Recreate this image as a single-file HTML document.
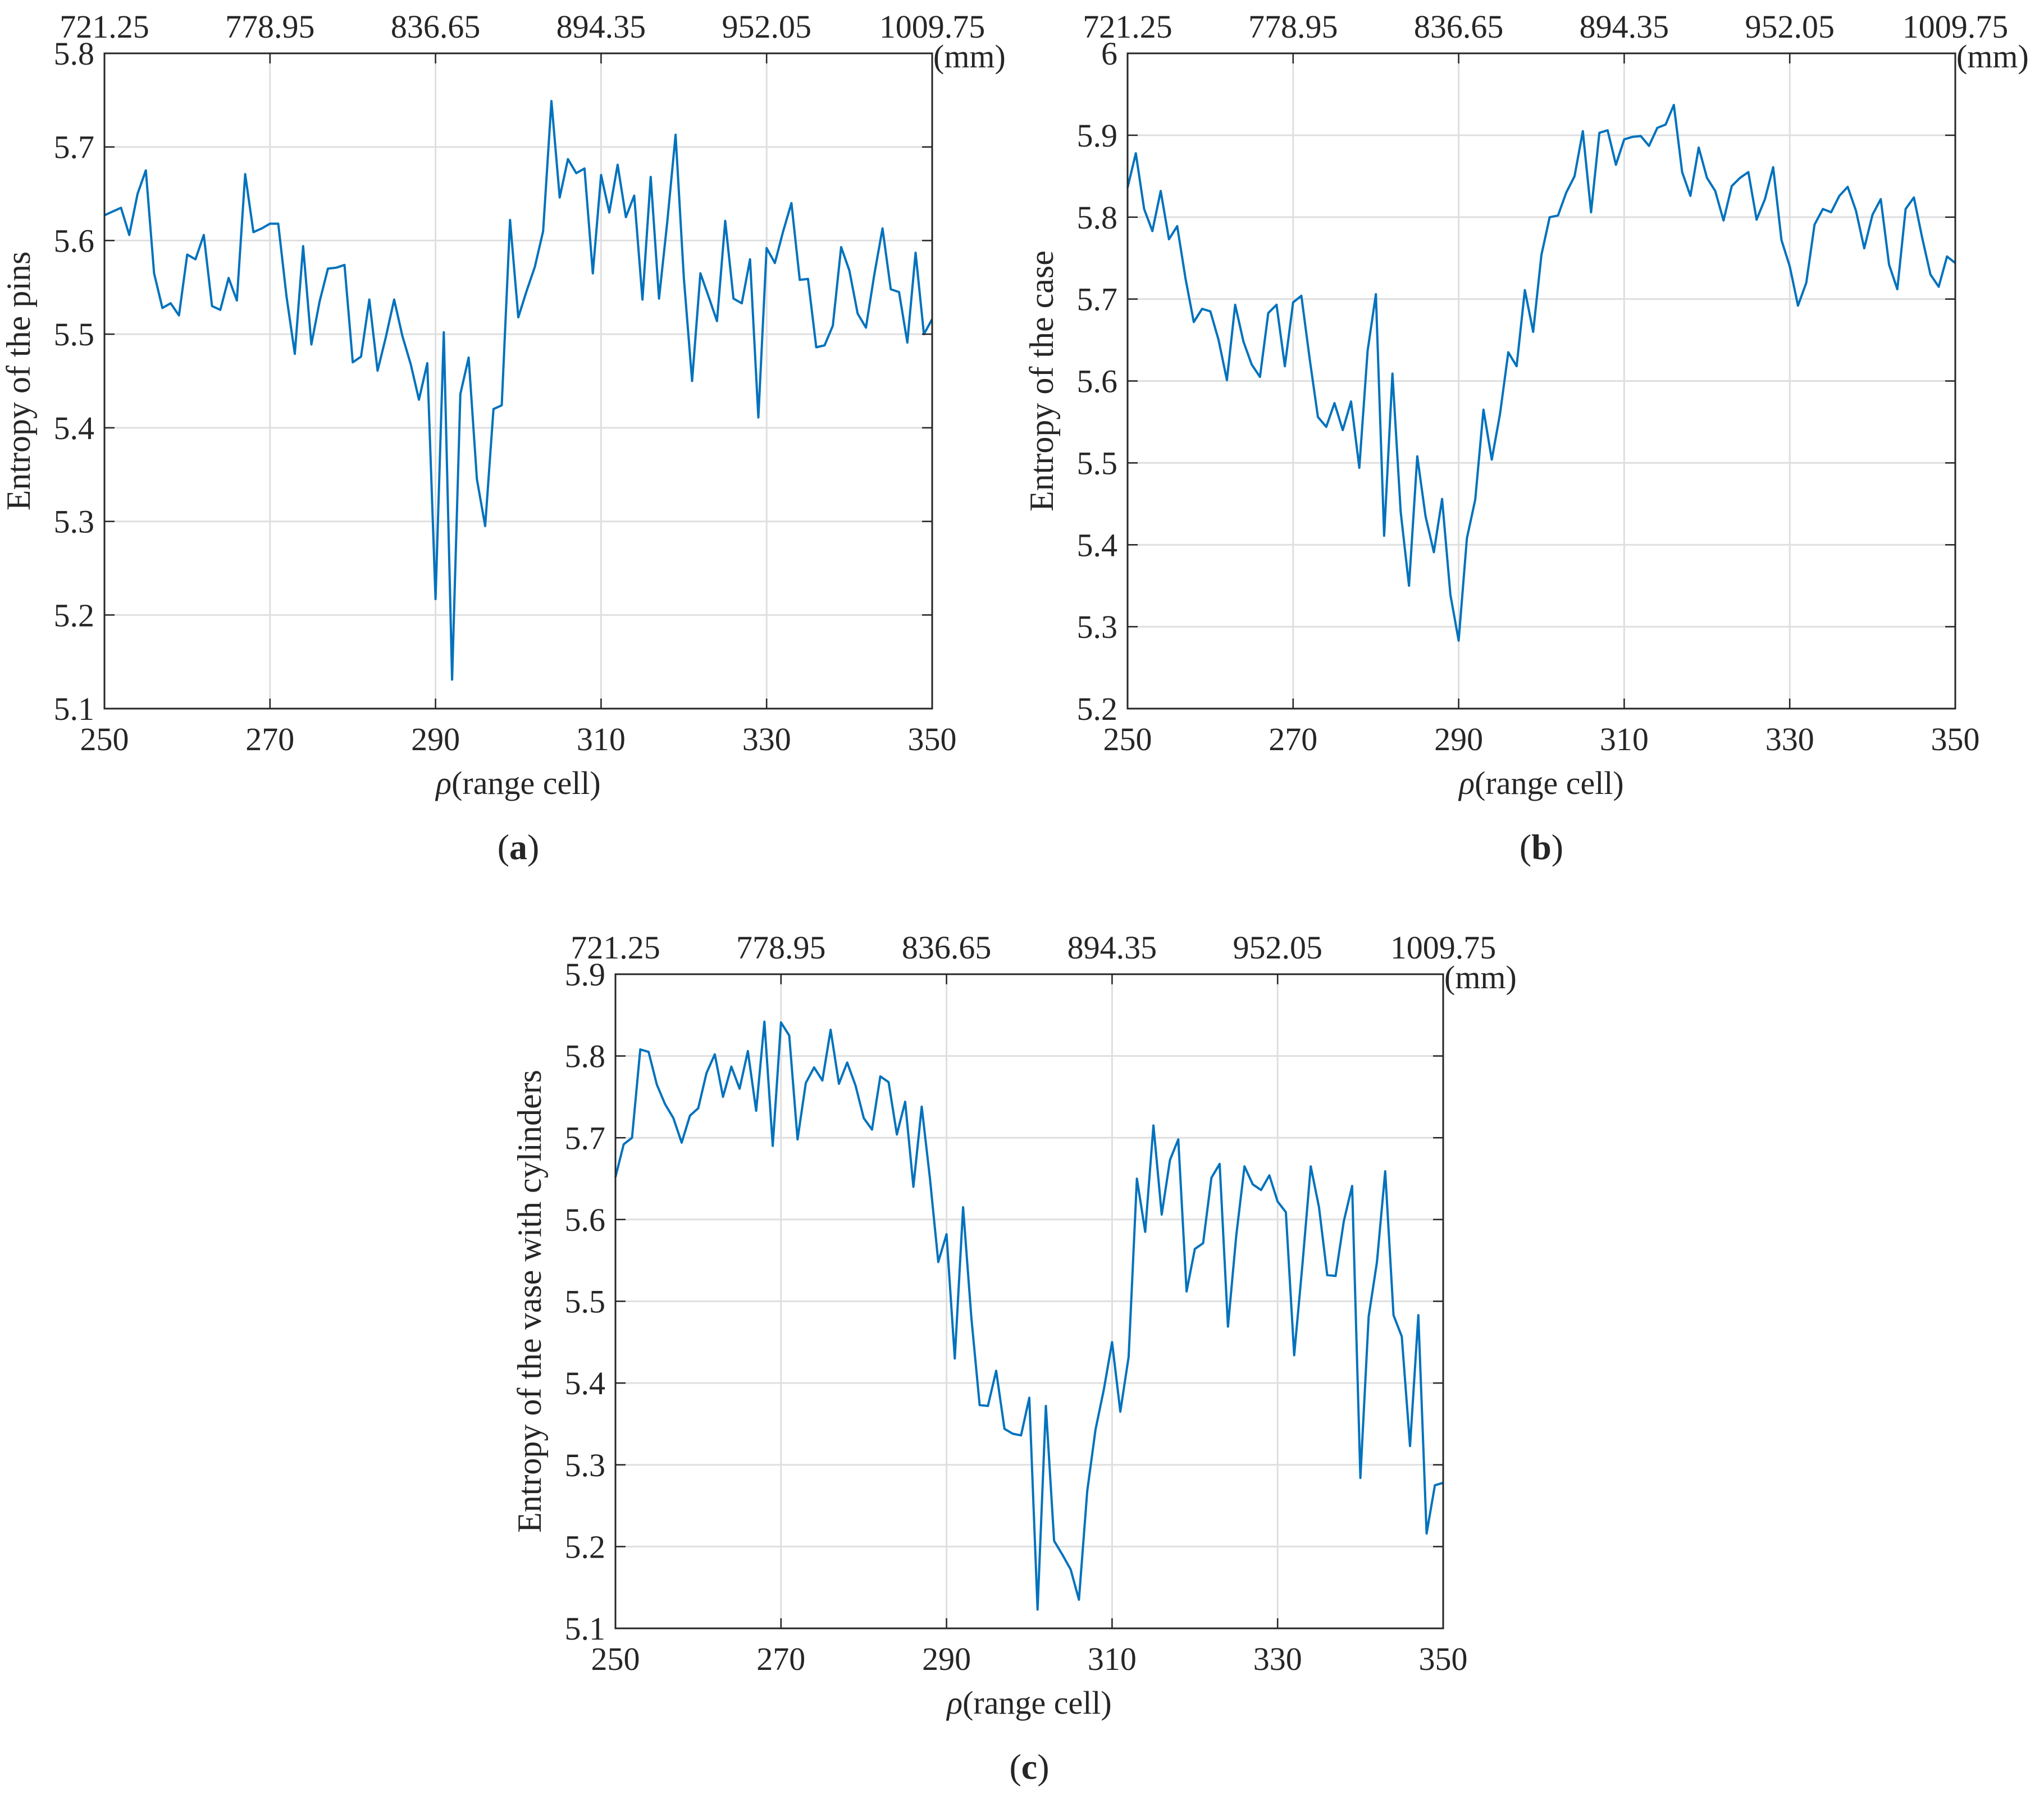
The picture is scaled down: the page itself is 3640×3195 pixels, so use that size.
<!DOCTYPE html>
<html><head><meta charset="utf-8"><style>
body{margin:0;background:#fff;overflow:hidden}
svg{display:block}
text{font-family:"Liberation Serif",serif;fill:#262626}
</style></head><body>
<svg id="fig" width="3640" height="3195" viewBox="0 0 3640 3195" xmlns="http://www.w3.org/2000/svg"></svg>
<script>
const xTicks=[250,270,290,310,330,350];
const topTickLabels=["721.25","778.95","836.65","894.35","952.05","1009.75"];
const cells=[];for(let i=250;i<=350;i++)cells.push(i);
const pinsValues=[5.627,5.631,5.635,5.606,5.65,5.675,5.565,5.528,5.533,5.52,5.585,5.58,5.606,5.53,5.526,5.56,5.536,5.671,5.609,5.613,5.618,5.618,5.54,5.479,5.594,5.489,5.535,5.57,5.571,5.574,5.47,5.476,5.537,5.461,5.497,5.537,5.498,5.468,5.43,5.469,5.217,5.502,5.131,5.436,5.475,5.345,5.295,5.42,5.424,5.622,5.518,5.546,5.572,5.61,5.749,5.646,5.687,5.672,5.677,5.565,5.67,5.63,5.681,5.625,5.648,5.537,5.668,5.538,5.62,5.713,5.56,5.45,5.565,5.54,5.514,5.621,5.538,5.533,5.58,5.411,5.592,5.576,5.61,5.64,5.558,5.559,5.486,5.488,5.509,5.593,5.568,5.522,5.507,5.563,5.613,5.548,5.545,5.491,5.587,5.5,5.516];
const caseValues=[5.836,5.878,5.81,5.783,5.832,5.773,5.789,5.725,5.672,5.688,5.685,5.65,5.601,5.693,5.648,5.62,5.605,5.683,5.693,5.618,5.696,5.704,5.627,5.556,5.544,5.573,5.54,5.575,5.494,5.637,5.706,5.411,5.609,5.44,5.35,5.508,5.435,5.391,5.456,5.339,5.283,5.408,5.455,5.565,5.504,5.56,5.635,5.618,5.711,5.66,5.754,5.8,5.802,5.83,5.85,5.905,5.806,5.903,5.906,5.864,5.895,5.898,5.899,5.887,5.909,5.913,5.937,5.855,5.826,5.885,5.848,5.832,5.796,5.838,5.848,5.855,5.797,5.822,5.861,5.772,5.74,5.692,5.72,5.791,5.81,5.806,5.826,5.837,5.808,5.762,5.803,5.822,5.742,5.712,5.81,5.824,5.775,5.73,5.715,5.752,5.744];
const vaseValues=[5.652,5.692,5.7,5.808,5.805,5.765,5.741,5.724,5.694,5.727,5.736,5.779,5.802,5.75,5.787,5.76,5.806,5.733,5.842,5.69,5.841,5.825,5.698,5.767,5.786,5.77,5.832,5.766,5.792,5.764,5.724,5.71,5.775,5.768,5.704,5.744,5.64,5.738,5.65,5.548,5.582,5.43,5.615,5.48,5.373,5.372,5.415,5.344,5.338,5.336,5.382,5.123,5.372,5.207,5.19,5.172,5.135,5.268,5.343,5.392,5.45,5.365,5.432,5.65,5.585,5.715,5.606,5.673,5.698,5.512,5.564,5.571,5.651,5.668,5.469,5.58,5.665,5.643,5.636,5.654,5.622,5.609,5.434,5.545,5.665,5.615,5.532,5.531,5.598,5.641,5.284,5.481,5.548,5.659,5.483,5.457,5.323,5.483,5.216,5.275,5.278];
const pinsYTicks=["5.1","5.2","5.3","5.4","5.5","5.6","5.7","5.8"];
const caseYTicks=["5.2","5.3","5.4","5.5","5.6","5.7","5.8","5.9","6"];
const vaseYTicks=["5.1","5.2","5.3","5.4","5.5","5.6","5.7","5.8","5.9"];

const NS="http://www.w3.org/2000/svg";
const svg=document.getElementById('fig');
function mk(tag,attrs,parent){const e=document.createElementNS(NS,tag);for(const k in attrs)e.setAttribute(k,attrs[k]);parent.appendChild(e);return e;}

function panel(id,L,R,T,B,yTicks,vals,ytitle,cap){
  const g=mk('g',{},svg);
  
  
  const y0=parseFloat(yTicks[0]),y1=parseFloat(yTicks[yTicks.length-1]);
  const sx=v=>L+(v-250)/(350-250)*(R-L);
  const sy=v=>B-(v-y0)/(y1-y0)*(B-T);
  xTicks.forEach(t=>{const l=mk('line',{x1:sx(t),x2:sx(t),y1:T,y2:B,stroke:'#dfdfdf','stroke-width':3},g);
    
    });
  yTicks.forEach(t=>{const l=mk('line',{x1:L,x2:R,y1:sy(+t),y2:sy(+t),stroke:'#dfdfdf','stroke-width':3},g);
    
    });
  const d=vals.map((v,i)=>(i?'L':'M')+sx(cells[i]).toFixed(1)+' '+sy(v).toFixed(1)).join(' ');
  const p=mk('path',{d:d,fill:'none',stroke:'#0072BD','stroke-width':4,'stroke-linejoin':'round'},g);
  
  
  const tk=18;
  xTicks.forEach(t=>{mk('line',{x1:sx(t),x2:sx(t),y1:B,y2:B-tk,stroke:'#262626','stroke-width':2.5},g);
    mk('line',{x1:sx(t),x2:sx(t),y1:T,y2:T+tk,stroke:'#262626','stroke-width':2.5},g);});
  yTicks.forEach(t=>{mk('line',{x1:L,x2:L+tk,y1:sy(+t),y2:sy(+t),stroke:'#262626','stroke-width':2.5},g);
    mk('line',{x1:R,x2:R-tk,y1:sy(+t),y2:sy(+t),stroke:'#262626','stroke-width':2.5},g);});
  const box=mk('rect',{x:L,y:T,width:R-L,height:B-T,fill:'none',stroke:'#262626','stroke-width':3},g);
  
  
  xTicks.forEach((t,i)=>{
    const a=mk('text',{x:sx(t),y:B+74,'font-size':58,'text-anchor':'middle'},g);a.textContent=t;
    
    
    const b=mk('text',{x:sx(t),y:T-28,'font-size':58,'text-anchor':'middle'},g);b.textContent=topTickLabels[i];
    
    
  });
  yTicks.forEach(t=>{const a=mk('text',{x:L-18,y:sy(+t)+20,'font-size':58,'text-anchor':'end'},g);a.textContent=t;
    
    });
  const mm=mk('text',{x:R+2,y:T+25,'font-size':58},g);mm.textContent='(mm)';
  
  
  const xt=mk('text',{x:(L+R)/2,y:B+152,'font-size':58,'text-anchor':'middle'},g);
  xt.innerHTML='<tspan font-style="italic">ρ</tspan>(range cell)';
  
  
  const yt=mk('text',{x:0,y:0,'font-size':60,'text-anchor':'middle',transform:`translate(${L-133},${(T+B)/2}) rotate(-90)`},g);
  yt.textContent=ytitle;
  
  
  const c=mk('text',{x:(L+R)/2,y:B+268,'font-size':64,'text-anchor':'middle'},g);
  c.innerHTML='(<tspan font-weight="bold">'+cap+'</tspan>)';
  
  
}
panel('panel-a-pins',186,1660,95,1262,pinsYTicks,pinsValues,'Entropy of the pins','a');
panel('panel-b-case',2008,3482,95,1262,caseYTicks,caseValues,'Entropy of the case','b');
panel('panel-c-vase',1096,2570,1735,2900,vaseYTicks,vaseValues,'Entropy of the vase with cylinders','c');
</script>
</body></html>
